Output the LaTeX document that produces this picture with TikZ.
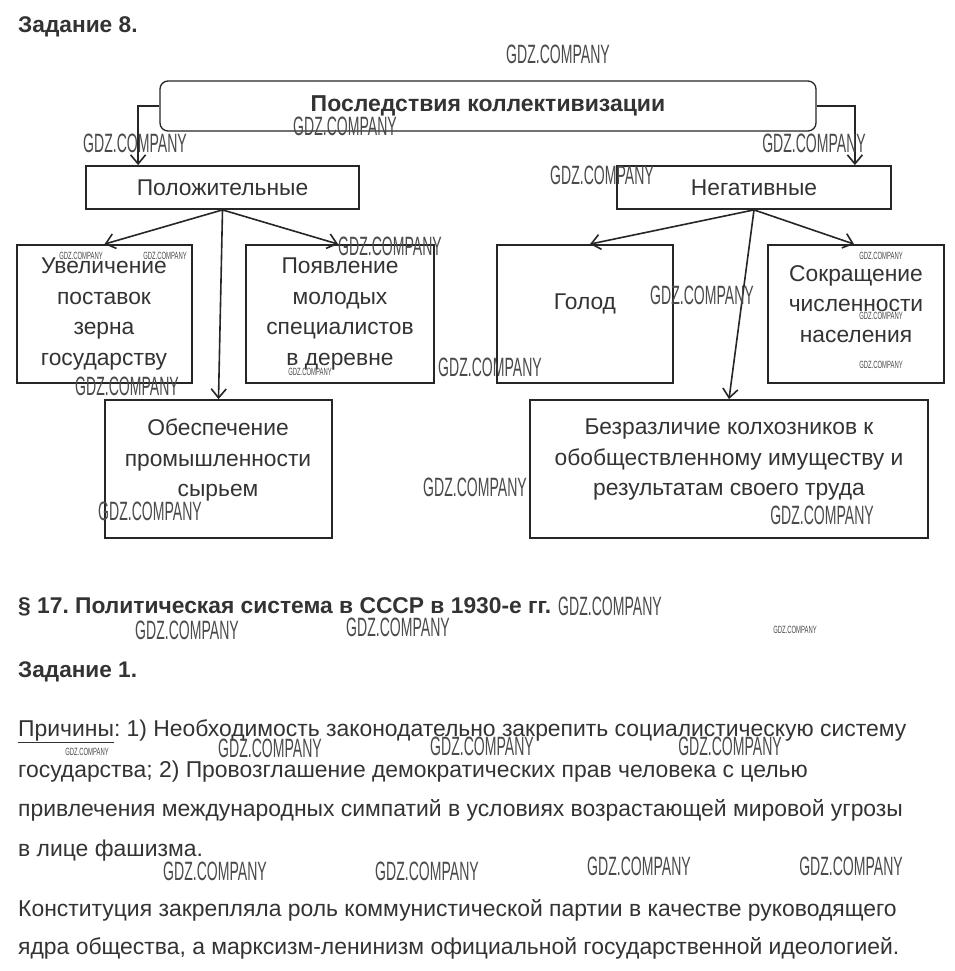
\documentclass[tikz,border=0pt]{standalone}
\usepackage{fontspec}
\setmainfont{Liberation Sans}
\frenchspacing
\usetikzlibrary{arrows.meta}
\definecolor{txtgray}{HTML}{333333}
\definecolor{wmgray}{HTML}{4A4A4A}
\tikzset{
	box/.style={draw=black!85, line width=1.8pt, inner sep=0pt},
	lbl/.style={font=\fontsize{22.8}{30.5}\selectfont, align=center, text=txtgray, inner sep=0pt},
	arr/.style={-{Straight Barb[length=9pt,width=15pt]}, line width=1.6pt, draw=black!85},
	para/.style={anchor=base west, inner sep=0pt, font=\fontsize{22.9}{22.9}\selectfont, text=txtgray},
	wm/.style={font=\fontsize{26.5}{26.5}\selectfont, xscale=0.53, text=wmgray, inner sep=0pt},
	wmsmall/.style={font=\fontsize{10.5}{10.5}\selectfont, xscale=0.56, text=wmgray, inner sep=0pt}
}
\begin{document}
\begin{tikzpicture}[x=1pt, y=-1pt]
	\useasboundingbox[fill=white] (0,0) rectangle (954,971);
	\node[anchor=base west, inner sep=0pt, font=\bfseries\fontsize{22.7}{22.7}\selectfont, text=txtgray] (task8) at (18,33) {Задание 8.};
	\node[box, rounded corners=8pt, line width=1.3pt, minimum width=656pt, minimum height=50pt, font=\bfseries\fontsize{23}{23}\selectfont, text=txtgray] (cons) at (488,106) {Последствия коллективизации};
	\node[box, minimum width=273pt, minimum height=43pt, lbl] (pos) at (222.5,187.5) {Положительные};
	\node[box, minimum width=274pt, minimum height=43pt, lbl] (neg) at (754,187.5) {Негативные};
	\node[box, minimum width=175pt, minimum height=138pt] (uvel) at (104.5,314) {};
	\node[box, minimum width=188pt, minimum height=138pt] (poyav) at (340,314) {};
	\node[box, minimum width=227pt, minimum height=138pt] (obesp) at (218.5,469) {};
	\node[box, minimum width=176pt, minimum height=138pt] (golod) at (585,314) {};
	\node[box, minimum width=176pt, minimum height=138pt] (sokr) at (856,314) {};
	\node[box, minimum width=398pt, minimum height=138pt] (bezr) at (729,469) {};
	\node[lbl] (uvelT) at (104,314) {Увеличение\\поставок\\зерна\\государству};
	\node[lbl] (poyavT) at (340,314) {Появление\\молодых\\специалистов\\в деревне};
	\node[lbl] (obespT) at (218,460) {Обеспечение\\промышленности\\сырьем};
	\node[lbl] (golodT) at (585,304) {Голод};
	\node[lbl] (sokrT) at (856,304) {Сокращение\\численности\\населения};
	\node[lbl] (bezrT) at (729,460) {Безразличие колхозников к\\обобществленному имуществу и\\результатам своего труда};
	\draw[arr] (cons.west) -| ([xshift=53pt]pos.north west);
	\draw[arr] (cons.east) -| ([xshift=-37pt]neg.north east);
	\draw[arr] (pos.south) -- (uvel.north);
	\draw[arr] (pos.south) -- (obesp.north);
	\draw[arr] (pos.south) -- ([xshift=-2pt]poyav.north);
	\draw[arr] (neg.south) -- ([xshift=5pt]golod.north);
	\draw[arr] (neg.south) -- (bezr.north);
	\draw[arr] (neg.south) -- ([xshift=-2pt]sokr.north);
	\node[anchor=base west, inner sep=0pt, font=\bfseries\fontsize{22.8}{22.8}\selectfont, text=txtgray] (par17) at (18,613) {§ 17. Политическая система в СССР в 1930-е гг.};
	\node[anchor=base west, inner sep=0pt, font=\bfseries\fontsize{22.6}{22.6}\selectfont, text=txtgray] (task1) at (18,677) {Задание 1.};
	\node[para] (p1) at (18,736) {\underline{Причины}: 1) Необходимость законодательно закрепить социалистическую систему};
	\node[para] (p2) at (18,777) {государства; 2) Провозглашение демократических прав человека с целью};
	\node[para] (p3) at (18,816) {привлечения международных симпатий в условиях возрастающей мировой угрозы};
	\node[para] (p4) at (18,856) {в лице фашизма.};
	\node[para] (p5) at (18,916) {Конституция закрепляла роль коммунистической партии в качестве руководящего};
	\node[para] (p6) at (18,954) {ядра общества, а марксизм-ленинизм официальной государственной идеологией.};
	\foreach \wx/\wy in {558/54, 345/126, 135/143, 814/143, 602/175, 390/246, 127/386, 490/367, 702/295, 150/511, 475/487, 822/515, 610/606, 187/630, 398/627, 270/748, 482/746, 730/746, 215/871, 427/871, 639/866, 851/866}
		\node[wm] (wm-\wx-\wy) at (\wx,\wy) {GDZ.COMPANY};
	\foreach \wx/\wy in {81/256, 165/256, 310/372, 881/256, 881/316, 881/365, 795/630, 87/752}
		\node[wmsmall] (wms-\wx-\wy) at (\wx,\wy) {GDZ.COMPANY};
\end{tikzpicture}
\end{document}
